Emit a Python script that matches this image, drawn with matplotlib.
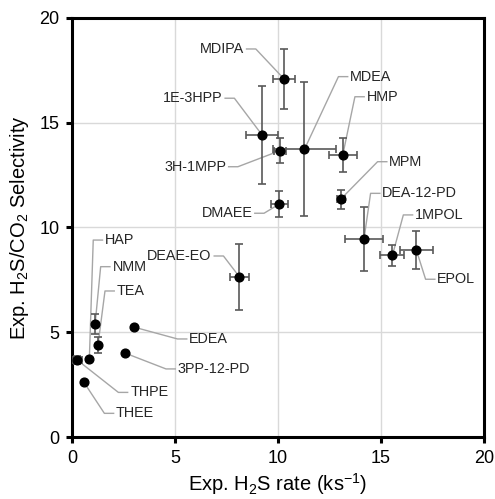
import numpy as np
import matplotlib
matplotlib.use('Agg')
import matplotlib.pyplot as plt

plt.rcParams['font.family'] = ['Liberation Sans', 'DejaVu Sans']
plt.rcParams['mathtext.fontset'] = 'custom'
plt.rcParams['mathtext.rm'] = 'Liberation Sans'
plt.rcParams['mathtext.it'] = 'Liberation Sans'

# amine data
names = ['MDIPA', '1E-3HPP', '3H-1MPP', 'MDEA', 'HMP', 'MPM', 'DMAEE',
         'DEA-12-PD', '1MPOL', 'EPOL', 'DEAE-EO', 'HAP', 'NMM', 'TEA',
         'EDEA', '3PP-12-PD', 'THPE', 'THEE']
rate = [10.29, 9.22, 10.10, 11.28, 13.14, 13.04, 10.06,
        14.17, 15.55, 16.71, 8.12, 0.84, 1.12, 1.26,
        3.03, 2.59, 0.26, 0.58]
selec = [17.09, 14.42, 13.67, 13.73, 13.46, 11.35, 11.12,
         9.45, 8.67, 8.93, 7.65, 3.71, 5.39, 4.39,
         5.24, 4.00, 3.67, 2.61]
rate_err = [0.54, 0.77, 0.30, 1.52, 0.69, 0.20, 0.40,
            0.90, 0.58, 0.81, 0.47, 0.0, 0.0, 0.0,
            0.0, 0.0, 0.20, 0.0]
selec_err = [1.43, 2.34, 0.60, 3.20, 0.80, 0.45, 0.63,
             1.53, 0.50, 0.92, 1.57, 0.0, 0.48, 0.40,
             0.0, 0.0, 0.20, 0.0]

# label positions (text anchor x, y, side)
lab_pos = {
    'MDIPA': (8.35, 18.52, 'r'), '1E-3HPP': (7.31, 16.17, 'r'),
    '3H-1MPP': (7.48, 12.90, 'r'), 'MDEA': (13.5, 17.20, 'l'),
    'HMP': (14.3, 16.24, 'l'), 'MPM': (15.4, 13.14, 'l'),
    'DMAEE': (8.75, 10.68, 'r'), 'DEA-12-PD': (15.06, 11.63, 'l'),
    '1MPOL': (16.65, 10.60, 'l'), 'EPOL': (17.73, 7.53, 'l'),
    'DEAE-EO': (6.78, 8.64, 'r'), 'HAP': (1.60, 9.40, 'l'),
    'NMM': (1.96, 8.13, 'l'), 'TEA': (2.17, 6.97, 'l'),
    'EDEA': (5.69, 4.68, 'l'), '3PP-12-PD': (5.13, 3.25, 'l'),
    'THPE': (2.82, 2.13, 'l'), 'THEE': (2.14, 1.13, 'l'),
}

fig = plt.figure(figsize=(4.95, 4.99), dpi=100)
ax = fig.add_axes([0.1455, 0.1242, 0.8325, 0.8398])

# leader lines
for i, n in enumerate(names):
    tx, ty, side = lab_pos[n]
    if side == 'r':
        x0 = tx + 0.12
        x1 = x0 + 0.45
    else:
        x0 = tx - 0.12
        x1 = x0 - 0.45
    ax.plot([x0, x1, rate[i]], [ty, ty, selec[i]], color='#a6a6a6', lw=1.0, zorder=2)
    ax.text(tx, ty, n, ha='right' if side == 'r' else 'left', va='center',
            fontsize=10.4, color='#262626', zorder=4)

ax.errorbar(rate, selec, xerr=rate_err, yerr=selec_err, fmt='o', color='black',
            ms=6.3, ecolor='#595959', elinewidth=1.2, capsize=2.6, capthick=1.2, zorder=3)

ax.set_xlim(0, 20)
ax.set_ylim(0, 20)
ax.set_xticks([0, 5, 10, 15, 20])
ax.set_yticks([0, 5, 10, 15, 20])
ax.grid(True, color='#d9d9d9', lw=1.0)
ax.set_axisbelow(True)
for s in ax.spines.values():
    s.set_linewidth(2.2)
    s.set_color('black')
ax.tick_params(direction='out', length=4, width=2.2, labelsize=13, pad=5)
ax.set_xlabel('Exp. H$_\\mathregular{2}$S rate (ks$^\\mathregular{-1}$)', fontsize=14.5, labelpad=3)
ax.set_ylabel('Exp. H$_\\mathregular{2}$S/CO$_\\mathregular{2}$ Selectivity', fontsize=14.5, labelpad=6)

fig.savefig('out.png', dpi=100)
